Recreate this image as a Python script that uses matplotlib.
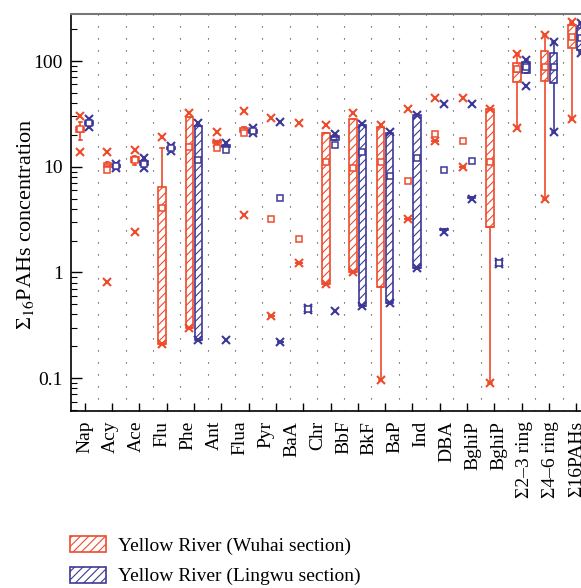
import numpy as np
import matplotlib
matplotlib.use("Agg")
import matplotlib.pyplot as plt
from matplotlib.patches import Patch

plt.rcParams['font.family'] = ['Liberation Serif', 'DejaVu Serif']
plt.rcParams['mathtext.fontset'] = 'stix'
plt.rcParams['hatch.linewidth'] = 0.8

# groups drawn on the axis (19) and the labels written under it (20, as in the source figure)
groups = ['Nap', 'Acy', 'Ace', 'Flu', 'Phe', 'Ant', 'Flua', 'Pyr', 'BaA', 'Chr', 'BbF',
          'BkF', 'BaP', 'Ind', 'DBA', 'BghiP', 'S2-3', 'S4-6', 'S16']
tick_labels = ['Nap', 'Acy', 'Ace', 'Flu', 'Phe', 'Ant', 'Flua', 'Pyr', 'BaA', 'Chr', 'BbF',
               'BkF', 'BaP', 'Ind', 'DBA', 'BghiP', 'BghiP', 'Σ2–3 ring', 'Σ4–6 ring', 'Σ16PAHs']

# Yellow River (Wuhai section)
wu_min  = [13.8, 0.81, 2.4, 0.21, 0.30, 16.8, 3.5, 0.39, 1.23, 0.78, 1.0, 0.096, 3.2, 17.5, 10.0, 0.09, 23.3, 5.0, 28.0]
wu_wlo  = [17.9, 10.0, 10.3, 0.21, 0.30, 16.8, 21.0, 0.39, 1.23, 0.78, 1.0, 0.096, 3.2, 17.5, 10.0, 0.09, 23.3, 5.0, 28.0]
wu_q1   = [21.3, 10.0, 11.0, 0.21, 0.30, 16.8, 21.3, 0.39, 1.23, 0.78, 1.0, 0.73, 3.2, 17.5, 10.0, 2.7, 63.0, 65.0, 133.0]
wu_med  = [22.5, 10.4, 11.8, 0.21, 0.30, 17.0, 22.0, 0.39, 1.23, 0.78, 1.0, 0.73, 3.2, 17.5, 10.0, 2.7, 79.0, 90.0, 170.0]
wu_q3   = [23.7, 10.9, 12.3, 6.4, 29.5, 17.5, 23.0, 0.39, 1.23, 20.9, 28.3, 23.7, 3.2, 17.5, 10.0, 35.0, 96.0, 124.0, 219.0]
wu_whi  = [26.5, 11.0, 12.6, 15.0, 29.5, 17.5, 23.5, 0.39, 1.23, 20.9, 28.3, 23.7, 3.2, 17.5, 10.0, 35.0, 116.0, 176.0, 234.0]
wu_max  = [30.0, 13.8, 14.4, 19.2, 32.0, 21.3, 33.6, 28.9, 26.0, 24.8, 32.0, 24.8, 35.0, 44.7, 44.7, 35.0, 116.0, 176.0, 234.0]
wu_mean = [22.5, 9.4, 11.6, 4.1, 15.3, 15.0, 21.0, 3.2, 2.07, 11.0, 9.8, 11.0, 7.3, 20.4, 17.5, 11.1, 84.0, 88.0, 168.0]

# Yellow River (Lingwu section)
lw_min  = [24.0, 9.7, 9.8, 14.2, 0.23, 0.23, 20.7, 0.22, 0.44, 0.43, 0.48, 0.51, 1.1, 2.4, 4.9, 1.2, 58.0, 21.3, 119.0]
lw_wlo  = [24.5, 9.8, 10.0, 14.4, 0.23, 15.5, 20.8, 0.22, 0.44, 18.0, 0.48, 0.51, 1.1, 2.45, 5.0, 1.22, 77.0, 21.3, 119.0]
lw_q1   = [25.0, 9.9, 10.3, 14.6, 0.23, 15.5, 21.0, 0.22, 0.45, 18.0, 0.48, 0.51, 1.1, 2.5, 5.05, 1.23, 77.0, 62.0, 127.0]
lw_med  = [26.0, 10.2, 10.8, 15.0, 0.23, 15.7, 21.7, 0.22, 0.45, 19.0, 0.48, 0.51, 1.1, 2.5, 5.1, 1.23, 86.0, 88.0, 165.0]
lw_q3   = [27.0, 10.4, 11.3, 15.4, 24.3, 16.0, 22.3, 0.22, 0.45, 19.5, 24.8, 20.9, 30.9, 2.55, 5.15, 1.23, 98.0, 119.0, 205.0]
lw_whi  = [27.5, 10.5, 11.6, 15.6, 24.3, 16.0, 22.6, 0.22, 0.46, 20.0, 24.8, 20.9, 30.9, 2.6, 5.2, 1.24, 102.0, 151.0, 229.0]
lw_max  = [28.0, 10.6, 12.0, 15.8, 26.0, 16.8, 23.0, 26.5, 0.46, 20.4, 25.3, 21.3, 31.0, 39.0, 39.0, 1.25, 102.0, 151.0, 229.0]
lw_mean = [26.0, 10.2, 10.7, 15.0, 11.6, 14.4, 21.7, 5.1, 0.45, 16.0, 13.8, 8.2, 12.1, 9.3, 11.3, 1.23, 88.0, 88.0, 165.0]

red = '#EE4B2B'
blue = '#3C3897'


def make_stats(mn, wlo, q1, med, q3, whi, mx, mean):
    out = []
    for i in range(len(mn)):
        out.append(dict(whislo=wlo[i], q1=q1[i], med=med[i], q3=q3[i], whishi=whi[i],
                        mean=mean[i], fliers=[mn[i], mx[i]]))
    return out


fig = plt.figure(figsize=(5.81, 5.88), dpi=100)
ax = fig.add_axes([71/581, 1 - 411/588, 1 - 71/581, 397/588])

pos = np.arange(len(groups))
off = 0.165
for stats, color, p in [(make_stats(wu_min, wu_wlo, wu_q1, wu_med, wu_q3, wu_whi, wu_max, wu_mean), red, pos - off),
                        (make_stats(lw_min, lw_wlo, lw_q1, lw_med, lw_q3, lw_whi, lw_max, lw_mean), blue, pos + off)]:
    ax.bxp(stats, positions=p, widths=0.28, patch_artist=True, showmeans=True,
           capwidths=0.12,
           boxprops=dict(facecolor='white', edgecolor=color, hatch='////', linewidth=1.2),
           whiskerprops=dict(color=color, linewidth=1.2),
           capprops=dict(color=color, linewidth=1.2),
           medianprops=dict(color=color, linewidth=1.2),
           meanprops=dict(marker='s', markersize=5, markerfacecolor='white',
                          markeredgecolor=color, markeredgewidth=1.1),
           flierprops=dict(marker='x', markersize=5.5, markeredgecolor=color,
                           markeredgewidth=1.5, linestyle='none'),
           manage_ticks=False)

ax.set_yscale('log')
ax.set_ylim(0.0488, 278.6)
ax.set_xlim(-0.5, 18.17)

# dotted vertical guides between groups
for xg in np.arange(0.5, 18, 1):
    ax.axvline(xg, color='#333333', lw=0.8, linestyle=(0, (1, 9.8)), zorder=0)

ax.set_yticks([0.1, 1, 10, 100], ['0.1', '1', '10', '100'])
ax.tick_params(axis='y', which='major', direction='in', length=8, width=1, labelsize=14, pad=6)
ax.tick_params(axis='y', which='minor', direction='in', length=4, width=0.8)
ax.xaxis.remove_overlapping_locs = False
ax.set_xticks(pos, [''] * len(pos))
ax.tick_params(axis='x', which='major', direction='in', length=6, width=1)
ax.set_xticks(np.linspace(0, 18, len(tick_labels)), tick_labels, minor=True, rotation=90)
ax.tick_params(axis='x', which='minor', length=0, labelsize=14, pad=7)

ax.spines['right'].set_visible(False)
ax.spines['top'].set_color('#777777')
ax.spines['top'].set_linewidth(1.5)
ax.spines['left'].set_linewidth(1.2)
ax.spines['bottom'].set_linewidth(1.2)

ax.set_ylabel('Σ$_{16}$PAHs concentration', fontsize=16)
ax.yaxis.set_label_coords(-0.068, 0.47)

handles = [Patch(facecolor='white', edgecolor=red, hatch='////', lw=1.2),
           Patch(facecolor='white', edgecolor=blue, hatch='////', lw=1.2)]
fig.legend(handles, ['Yellow River (Wuhai section)', 'Yellow River (Lingwu section)'],
           loc='upper left', bbox_to_anchor=(70/581, 1 - 536/588), frameon=False,
           fontsize=14, handlelength=1.85, handleheight=0.9, handletextpad=0.6,
           labelspacing=0.6, borderpad=0, borderaxespad=0)

fig.savefig('out.png', dpi=100)
